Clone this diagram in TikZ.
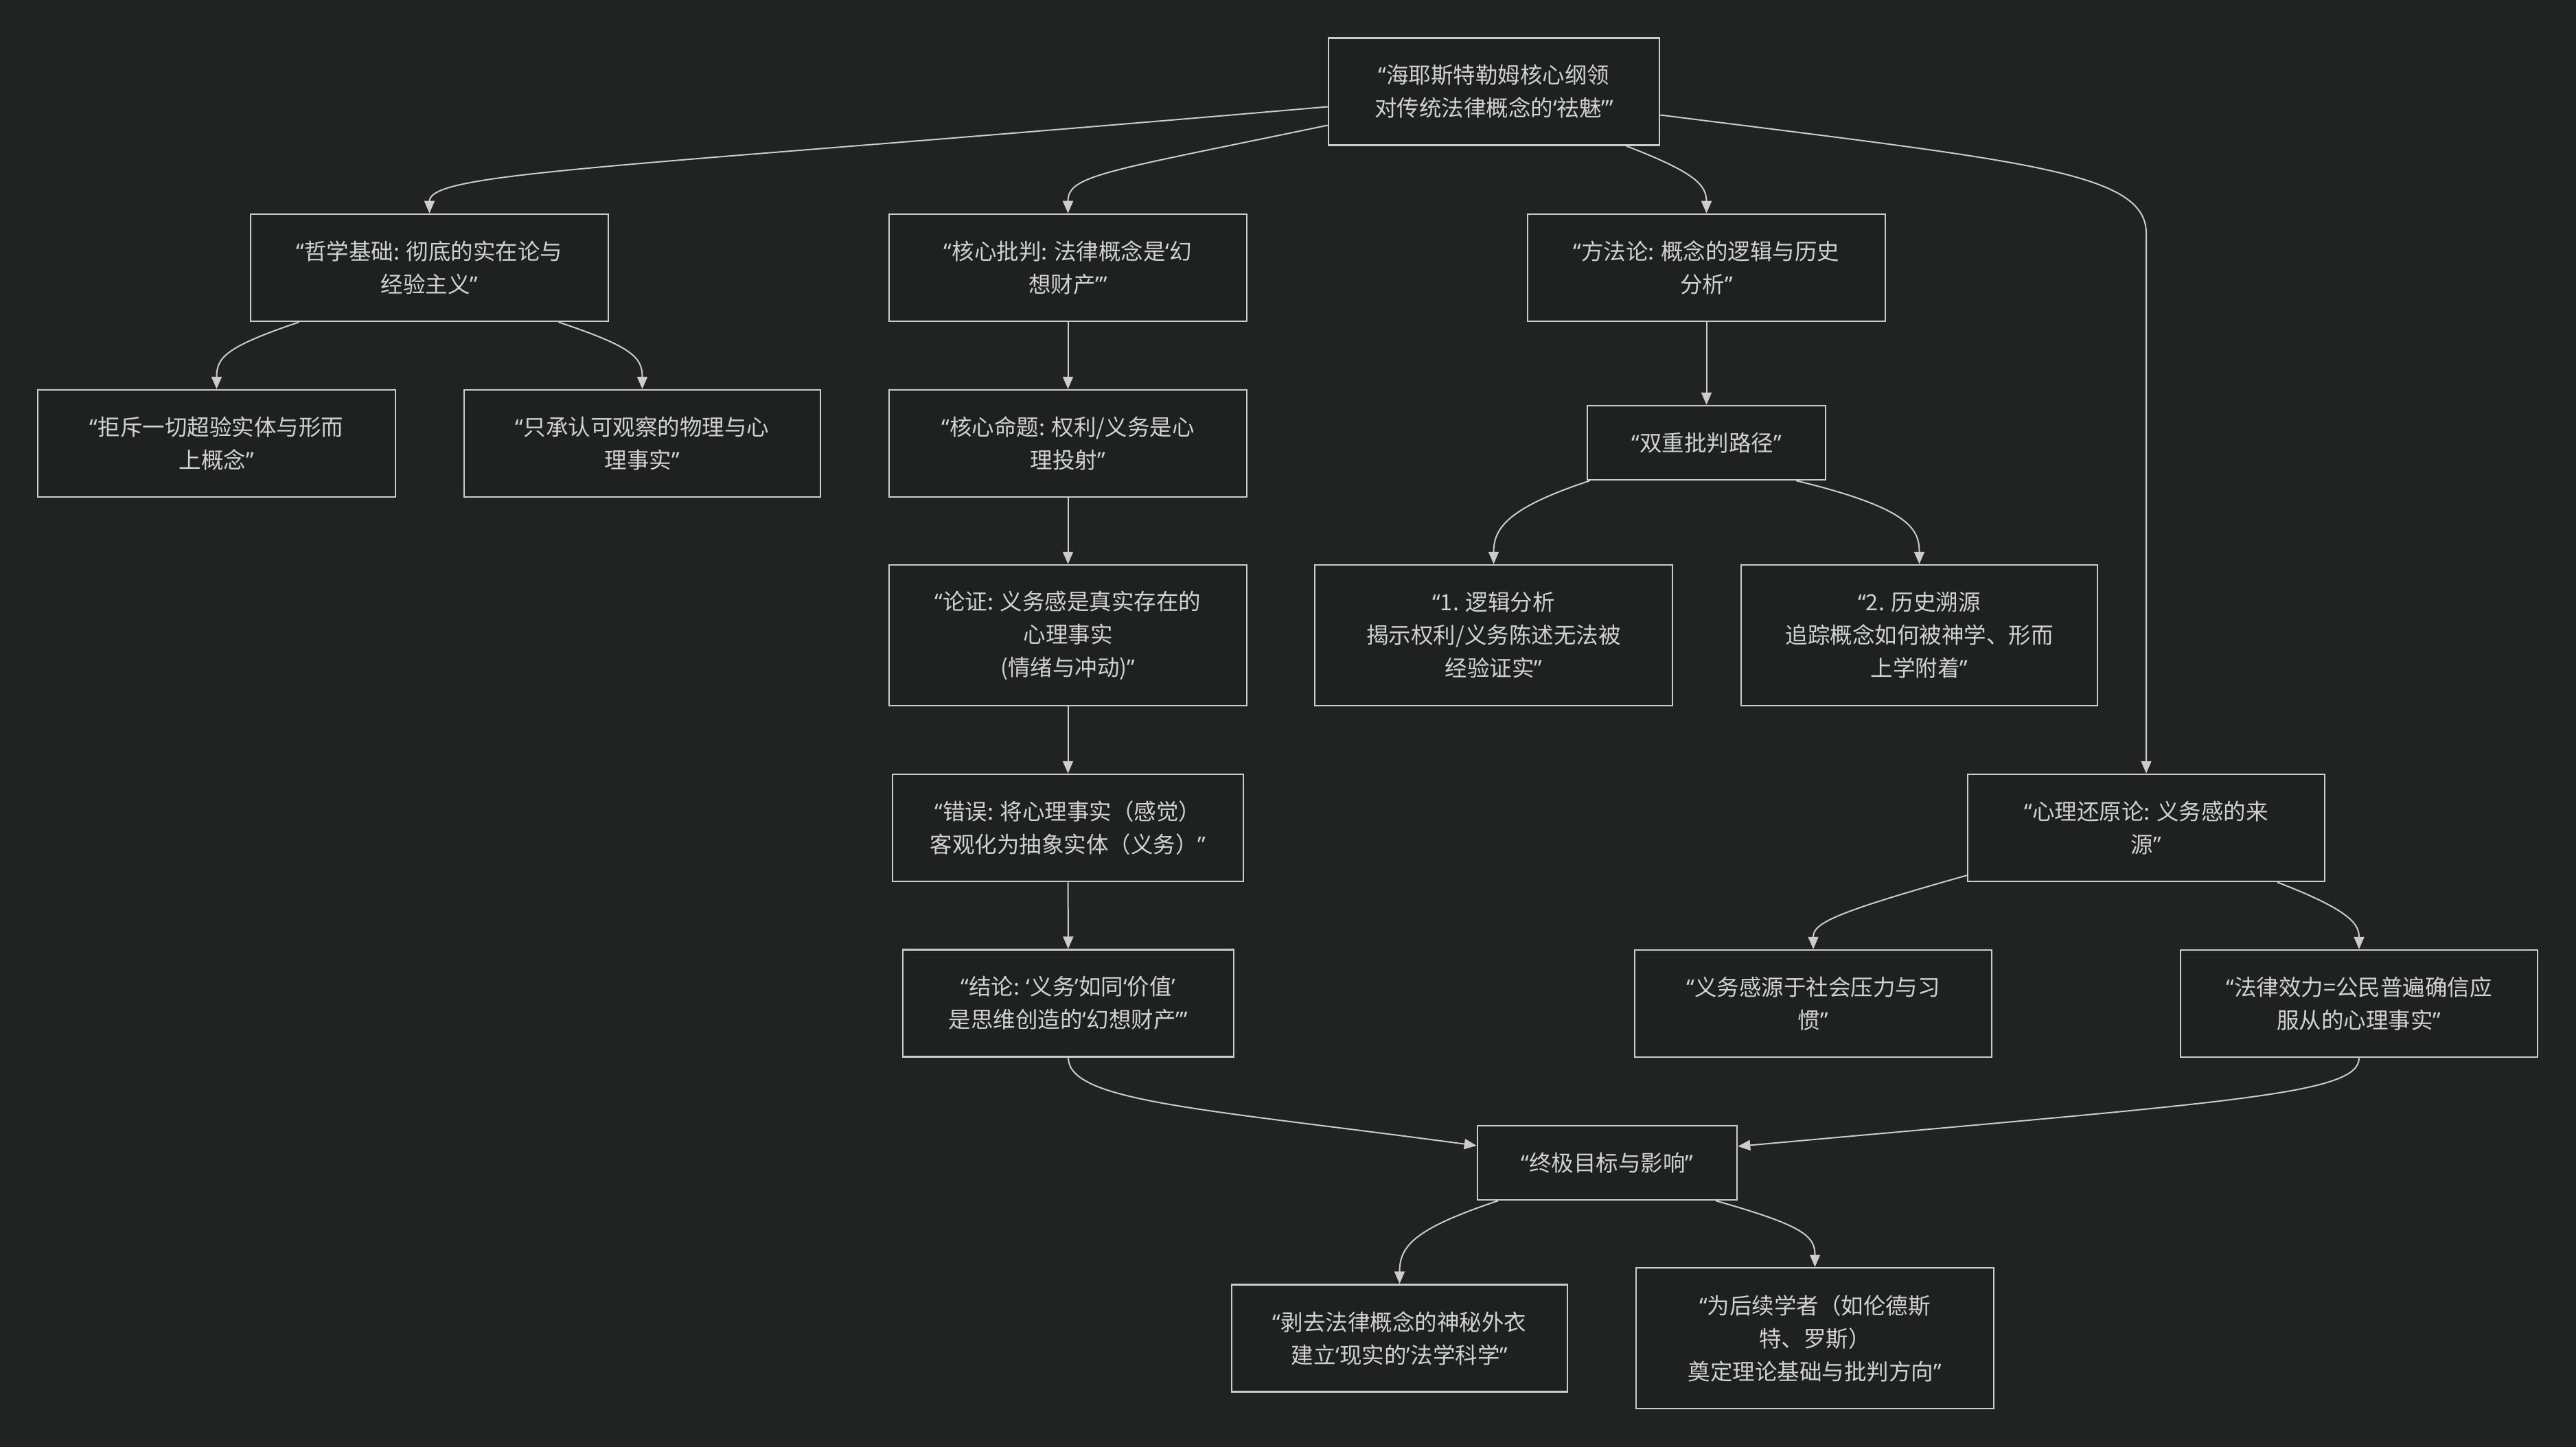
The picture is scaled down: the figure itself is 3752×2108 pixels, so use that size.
\documentclass[tikz,border=0pt]{standalone}
\usepackage{fontspec}
\setmainfont{Noto Sans CJK SC}
\newfontfamily\quotefont{Noto Sans}
\usetikzlibrary{arrows.meta,calc}
% narrow Latin quotes instead of the full-width CJK ones
\catcode`“=\active \def“{{\quotefont\char"201C\relax}}
\catcode`”=\active \def”{{\quotefont\char"201D\relax}}
\catcode`‘=\active \def‘{{\quotefont\char"2018\relax}}
\catcode`’=\active \def’{{\quotefont\char"2019\relax}}

\begin{document}
\begin{tikzpicture}[x=1pt,y=-1pt,
  box/.style={draw=edge, line width=2.5pt, fill=boxbg, text=ink, align=center,
    minimum width=521pt, minimum height=156pt, inner sep=0pt,
    font=\fontsize{32.5}{48}\selectfont},
  link/.style={draw=edge, line width=2pt, -{Triangle[length=18pt,width=15pt]}}]
% Dark flowchart: one root, four branches, two branches meet again
% in the goal box at the bottom. Coordinates are pixels, y downwards.
\definecolor{page}{HTML}{212222}
\definecolor{boxbg}{HTML}{1F2020}
\definecolor{edge}{HTML}{CCCCCC}
\definecolor{ink}{HTML}{D2D2D2}
\fill[page] (0,0) rectangle (3752,2108);

\node[box, minimum width=482pt] (root) at (2176,133.5) {“海耶斯特勒姆核心纲领\\对传统法律概念的‘祛魅’”};

\node[box] (phil) at (625.5,390) {“哲学基础: 彻底的实在论与\\经验主义”};
\node[box] (crit) at (1555.5,390) {“核心批判: 法律概念是‘幻\\想财产’”};
\node[box] (meth) at (2485.5,390) {“方法论: 概念的逻辑与历史\\分析”};

\node[box] (reject) at (315.5,646) {“拒斥一切超验实体与形而\\上概念”};
\node[box, minimum width=519pt] (observe) at (935.5,646) {“只承认可观察的物理与心\\理事实”};
\node[box] (thesis) at (1555.5,646) {“核心命题: 权利/义务是心\\理投射”};
\node[box, minimum width=347pt, minimum height=108pt] (dual) at (2485.5,645) {“双重批判路径”};

\node[box, minimum height=205pt] (proof) at (1555.5,925.5) {“论证: 义务感是真实存在的\\心理事实\\(情绪与冲动)”};
\node[box, minimum height=205pt] (logic) at (2175.5,925.5) {“1. 逻辑分析\\揭示权利/义务陈述无法被\\经验证实”};
\node[box, minimum width=519pt, minimum height=205pt] (hist) at (2795.5,925.5) {“2. 历史溯源\\追踪概念如何被神学、形而\\上学附着”};

\node[box, minimum width=511pt] (error) at (1555.5,1206) {“错误: 将心理事实（感觉）\\客观化为抽象实体（义务）”};
\node[box, minimum width=520pt] (psych) at (3126,1206) {“心理还原论: 义务感的来\\源”};

\node[box, minimum width=482pt] (concl) at (1556,1461.5) {“结论: ‘义务’如同‘价值’\\是思维创造的‘幻想财产’”};
\node[box, minimum width=520pt] (social) at (2641,1462) {“义务感源于社会压力与习\\惯”};
\node[box, minimum width=520pt] (valid) at (3436,1462) {“法律效力=公民普遍确信应\\服从的心理事实”};

\node[box, minimum width=378pt, minimum height=108pt] (goal) at (2341,1694) {“终极目标与影响”};

\node[box, minimum width=489pt] (strip) at (2038.5,1949.5) {“剥去法律概念的神秘外衣\\建立‘现实的’法学科学”};
\node[box, minimum height=205pt] (legacy) at (2643.5,1949.5) {“为后续学者（如伦德斯\\特、罗斯）\\奠定理论基础与批判方向”};

% root to the four branches
\draw[link] ($(root.west)+(0,22)$) .. controls (900,245) and (625.5,250) .. (phil.north);
\draw[link] ($(root.west)+(0,49)$) .. controls (1610,250) and (1555.5,255) .. (crit.north);
\draw[link] ($(root.south)+(193,0)$) .. controls (2465,250) and (2485.5,268) .. (meth.north);
\draw[link] ($(root.east)+(0,34)$) .. controls (2950,235) and (3126,250) .. (3126,340) -- (psych.north);

% philosophy
\draw[link] ($(phil.south)+(-190,0)$) .. controls (330,505) and (315.5,520) .. (reject.north);
\draw[link] ($(phil.south)+(188,0)$) .. controls (920,505) and (935.5,520) .. (observe.north);

% the critique chain
\foreach \u/\v in {crit/thesis, thesis/proof, proof/error, error/concl}
  \draw[link] (\u) -- (\v);

% method
\draw[link] (meth) -- (dual);
\draw[link] ($(dual.south west)+(5,0)$) .. controls (2195,740) and (2175.5,770) .. (logic.north);
\draw[link] ($(dual.south east)+(-44,0)$) .. controls (2780,740) and (2795.5,770) .. (hist.north);

% psychology
\draw[link] ($(psych.south west)+(0,-10)$) .. controls (2670,1330) and (2641,1345) .. (social.north);
\draw[link] ($(psych.south)+(191,0)$) .. controls (3420,1325) and (3436,1345) .. (valid.north);

% merge and goal
\draw[link] (concl.south) .. controls (1556,1605) and (1750,1615) .. ($(goal.west)+(0,-25)$);
\draw[link] (valid.south) .. controls (3436,1595) and (3250,1605) .. ($(goal.east)+(0,-24)$);
\draw[link] ($(goal.south)+(-159,0)$) .. controls (2060,1790) and (2038.5,1815) .. (strip.north);
\draw[link] ($(goal.south)+(158,0)$) .. controls (2625,1785) and (2643.5,1800) .. (legacy.north);
\end{tikzpicture}
\end{document}
